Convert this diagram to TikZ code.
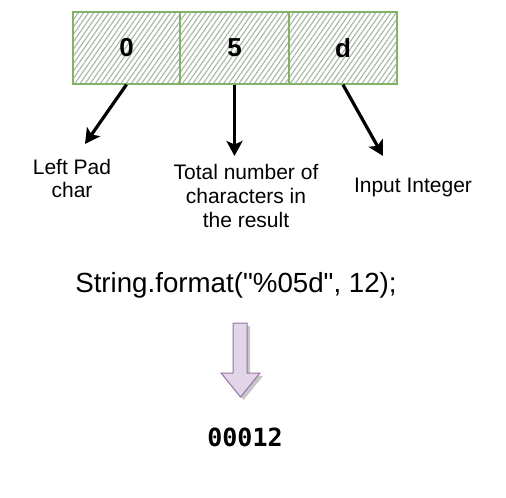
\documentclass[tikz,border=0pt]{standalone}
\usepackage{fontspec}
\setmainfont{Liberation Sans}
\newfontfamily\plainsans{Liberation Sans}
\newfontfamily\codefont{DejaVu Sans Mono}
\usetikzlibrary{arrows.meta,patterns.meta}
\definecolor{boxgreen}{HTML}{82B366}
\definecolor{hatchgray}{HTML}{A9B5A6}
\definecolor{purplefill}{HTML}{E1D5E7}
\definecolor{purpleline}{HTML}{9673A6}
\tikzset{
  cell/.style={draw=boxgreen, line width=1.5bp, inner sep=0pt,
    pattern={Lines[angle=55,distance=4.2bp,line width=1.1bp]}, pattern color=hatchgray,
    font=\bfseries\fontsize{26bp}{26bp}\selectfont},
  ptr/.style={line width=3.2bp, -{Stealth[length=15bp,width=16bp,inset=3.5bp]}},
  lbl/.style={align=center, inner sep=0pt, font=\fontsize{21bp}{23.5bp}\selectfont},
}
\begin{document}
\begin{tikzpicture}[x=1bp,y=-1bp]
\useasboundingbox (0,0) rectangle (506,498);
\fill[white] (0,0) rectangle (506,498);
% cells
\node[cell, minimum width=107bp, minimum height=72bp] (b0) at (126.5,48) {0};
\node[cell, minimum width=109bp, minimum height=72bp] (b5) at (234.5,48) {5};
\node[cell, minimum width=108bp, minimum height=72bp] (bd) at (343,48) {d};
% labels (base = last line)
\node[lbl, anchor=base] (l0) at (72,198) {Left Pad\\char};
\node[lbl, anchor=base] (l5) at (246,227) {Total number of\\characters in\\the result};
\node[lbl, anchor=base] (ld) at (413,193) {Input Integer};
% pointers
\coordinate (t0) at (85,144);
\coordinate (t5) at (234.5,156);
\coordinate (td) at (383,156);
\draw[ptr] (b0.south) -- (t0);
\draw[ptr] (b5.south) -- (t5);
\draw[ptr] (bd.south) -- (td);
% code
\node[anchor=base, inner sep=0pt, font=\plainsans\fontsize{27.7bp}{27.7bp}\selectfont] (code) at (236,292) {String.format("\%05d", 12);};
% block arrow with shadow
\fill[gray!45] ([shift={(3,3)}]233,323) -- ++(14,0) -- ++(0,50) -- ++(13,0) -- ++(-19.5,24) -- ++(-19.5,-24) -- ++(12,0) -- cycle;
\filldraw[fill=purplefill, draw=purpleline, line width=1bp] (233,323) -- (247,323) -- (247,373) -- (260,373) -- (240.5,397) -- (221,373) -- (233,373) -- cycle;
% result
\node[anchor=base, inner sep=0pt, font=\codefont\bfseries\fontsize{25bp}{25bp}\selectfont] (res) at (245,446) {00012};
\end{tikzpicture}
\end{document}
